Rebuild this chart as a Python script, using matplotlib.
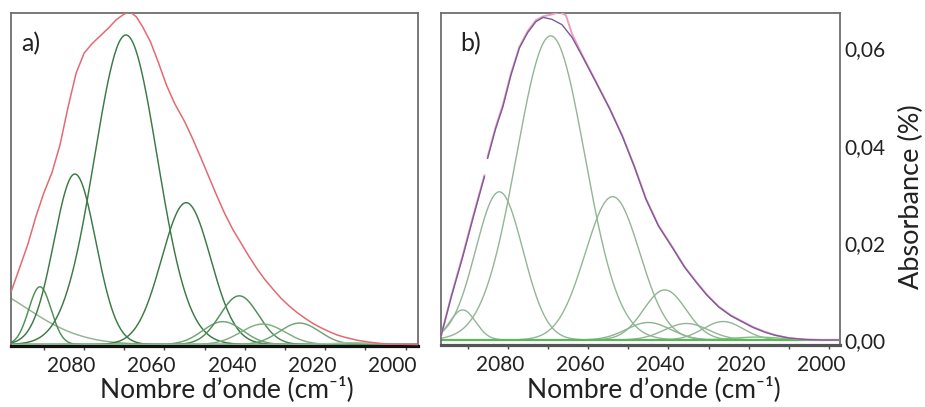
import numpy as np
import matplotlib
matplotlib.use("Agg")
import matplotlib.pyplot as plt
import matplotlib.transforms as mtransforms
from matplotlib.ticker import MultipleLocator

plt.rcParams['font.family'] = ['Lato', 'DejaVu Sans']

# ---------------- data: panel a (fitted Gaussian components) ----------------
a_centers = [2108.6, 2091.0, 2082.3, 2069.6, 2054.6, 2045.5, 2041.4, 2035.5, 2026.4, 2013.0]
a_heights = [0.0127, 0.0121, 0.0357, 0.0648, 0.0297, 0.0048, 0.0102, 0.0043, 0.0045, 0.0004]
a_sigmas = [14.1, 2.8, 5.2, 7.8, 6.1, 5.0, 4.8, 5.5, 5.0, 5.0]

# panel a experimental spectrum (red)
a_env_x = [2098.2, 2096.0, 2094.0, 2092.0, 2090.0, 2088.0, 2086.0, 2084.0, 2082.0, 2080.0,
           2078.0, 2076.0, 2074.0, 2072.0, 2070.0, 2068.5, 2067.0, 2065.5, 2063.5, 2061.5,
           2059.5, 2057.5, 2055.0, 2053.0, 2051.0, 2049.0, 2047.0, 2045.0, 2043.0, 2041.0,
           2039.0, 2037.0, 2035.0, 2033.0, 2031.0, 2029.0, 2027.0, 2025.0, 2023.0, 2021.0,
           2019.0, 2017.0, 2015.0, 2012.0, 2009.0, 2006.0, 2003.0, 1997.0]
a_env_y = [0.0110, 0.0162, 0.0210, 0.0268, 0.0318, 0.0360, 0.0418, 0.0497, 0.0568, 0.0610,
           0.0630, 0.0646, 0.0662, 0.0680, 0.0692, 0.0696, 0.0686, 0.0666, 0.0634, 0.0590,
           0.0543, 0.0505, 0.0467, 0.0431, 0.0392, 0.0352, 0.0312, 0.0274, 0.0241, 0.0213,
           0.0185, 0.0159, 0.0136, 0.0116, 0.0097, 0.0081, 0.0067, 0.0055, 0.0044, 0.0035,
           0.0027, 0.0020, 0.0015, 0.0009, 0.0005, 0.0002, 0.0001, 0.0000]

# ---------------- data: panel b ----------------
b_centers = [2091.2, 2082.1, 2069.3, 2053.9, 2045.0, 2040.9, 2035.5, 2026.4, 2018.0]
b_heights = [0.0062, 0.0305, 0.0626, 0.0295, 0.0036, 0.0103, 0.0034, 0.0038, 0.0006]
b_sigmas = [3.2, 5.9, 8.5, 6.8, 5.5, 5.3, 5.5, 5.0, 6.0]

# fitted envelope (purple); nan = small break seen in the original
b_fit_x = [2096.6, 2096.2, 2094.0, 2091.2, 2088.5, 2085.8, 2085.4, 2085.0, 2083.0, 2081.2,
           2079.2, 2077.1, 2075.0, 2073.0, 2071.2, 2069.0, 2066.5, 2064.0, 2061.3, 2058.0,
           2054.7, 2051.5, 2048.5, 2045.6, 2042.5, 2039.0, 2036.0, 2033.0, 2030.5, 2027.5,
           2024.5, 2022.0, 2019.0, 2016.0, 2013.5, 2010.0, 2006.0, 2002.0, 1997.3]
b_fit_y = [0.0008, 0.0021, 0.0090, 0.0171, 0.0255, 0.0336, np.nan, 0.0374, 0.0435, 0.0480,
           0.0545, 0.0601, 0.0633, 0.0655, 0.0664, 0.0660, 0.0649, 0.0623, 0.0582, 0.0530,
           0.0477, 0.0420, 0.0357, 0.0290, 0.0235, 0.0190, 0.0150, 0.0118, 0.0093, 0.0068,
           0.0050, 0.0039, 0.0026, 0.0016, 0.0010, 0.0004, 0.0001, 0.0000, 0.0000]

# experimental spectrum (pink), only differs near the maximum
b_exp_x = [2096.6, 2096.2, 2094.0, 2091.2, 2088.5, 2085.8, 2085.4, 2085.0, 2083.0, 2081.2,
           2079.2, 2077.1, 2075.0, 2073.0, 2071.2, 2069.0, 2067.0, 2065.5, 2064.0, 2061.3,
           2058.0, 2054.7, 2051.5, 2048.5, 2045.6, 2042.5, 2039.0, 2036.0, 2033.0, 2030.5,
           2027.5, 2024.5, 2022.0, 2019.0, 2016.0, 2013.5, 2010.0, 2006.0, 2002.0, 1997.3]
b_exp_y = [0.0008, 0.0021, 0.0092, 0.0174, 0.0258, 0.0339, np.nan, 0.0377, 0.0438, 0.0484,
           0.0548, 0.0603, 0.0636, 0.0658, 0.0666, 0.0670, 0.0675, 0.0668, 0.0630, 0.0584,
           0.0531, 0.0478, 0.0421, 0.0358, 0.0291, 0.0236, 0.0191, 0.0151, 0.0119, 0.0094,
           0.0069, 0.0051, 0.0040, 0.0027, 0.0017, 0.0010, 0.0004, 0.0001, 0.0000, 0.0000]

xticks = [2080, 2060, 2040, 2020, 2000]
xtick_labels = ['2080', '2060', '2040', '2020', '2000']
yticks_b = [0.00, 0.02, 0.04, 0.06]
ytick_labels_b = ['0,00', '0,02', '0,04', '0,06']

# ---------------- figure ----------------
W, H = 925, 407
fig = plt.figure(figsize=(W / 100, H / 100), dpi=100)


def px_axes(l, t, r, b):
    return fig.add_axes([l / W, 1 - b / H, (r - l) / W, (b - t) / H])


ax_a = px_axes(11, 13, 418, 346)
ax_b = px_axes(441, 13, 840, 345)

xs = np.linspace(2100, 1995, 900)


def gauss(c, h, s):
    return h * np.exp(-(xs - c) ** 2 / (2 * s ** 2))


# panel a
a_cols = ['#8fb592', '#4f8f55', '#3b7a44', '#3b7a44', '#3b7a44',
          '#6fa474', '#4f8f55', '#7fae83', '#6fa474', '#9cc79c']
for c, h, s, col in zip(a_centers, a_heights, a_sigmas, a_cols):
    ax_a.plot(xs, gauss(c, h, s), color=col, lw=1.05, zorder=2)
ax_a.plot(a_env_x, a_env_y, color='#e26a74', lw=1.1, zorder=3)
ax_a.set_xlim(2098.2, 1996.9)
ax_a.set_ylim(-0.0003, 0.0694)

# panel b
b_cols = ['#93b596', '#93b596', '#93b596', '#93b596', '#8ab58d',
          '#8fb592', '#93b596', '#93b596', '#7cc47c']
for c, h, s, col in zip(b_centers, b_heights, b_sigmas, b_cols):
    ax_b.plot(xs, gauss(c, h, s), color=col, lw=1.0, zorder=2)
ax_b.axhline(0, color='#5cb85c', lw=1.6, zorder=2.5)
ax_b.plot(b_exp_x, b_exp_y, color='#eaa0b8', lw=1.4, zorder=3)
ax_b.plot(b_fit_x, b_fit_y, color='#7b5a9c', lw=1.0, zorder=4)
ax_b.set_xlim(2096.6, 1997.3)
ax_b.set_ylim(-0.00103, 0.0673)

for ax, bottom_col, lab_shift in ((ax_a, '#111111', -13), (ax_b, '#555555', -8)):
    for sp in ('left', 'right', 'top'):
        ax.spines[sp].set_color('#6e6e6e')
        ax.spines[sp].set_linewidth(1.3)
    ax.spines['bottom'].set_color(bottom_col)
    ax.spines['bottom'].set_linewidth(2.3)
    ax.set_xticks(xticks)
    ax.set_xticklabels(xtick_labels)
    ax.xaxis.set_minor_locator(MultipleLocator(10))
    ax.tick_params(axis='x', which='both', direction='out', length=3, width=1,
                   color='#444444', labelsize=15, pad=4.5, labelcolor='#222222')
    off = mtransforms.ScaledTranslation(lab_shift / 100, 0, fig.dpi_scale_trans)
    for lab in ax.get_xticklabels():
        lab.set_transform(lab.get_transform() + off)
    ax.set_xlabel('Nombre d’onde (cm⁻¹)', fontsize=19, color='#222222')

ax_a.set_yticks([])
ax_a.xaxis.set_label_coords(0.530, -0.090)
ax_b.xaxis.set_label_coords(0.534, -0.093)

ax_b.yaxis.tick_right()
ax_b.set_yticks(yticks_b)
ax_b.set_yticklabels(ytick_labels_b)
ax_b.tick_params(axis='y', which='both', length=0, pad=3, labelsize=15, labelcolor='#222222')
ax_b.yaxis.set_label_position('right')
ax_b.set_ylabel('Absorbance (%)', fontsize=19.5, color='#222222')
ax_b.yaxis.set_label_coords(1.148, 0.447)

ax_a.text(0.026, 0.943, 'a)', transform=ax_a.transAxes, fontsize=18, va='top', ha='left', color='#222222')
ax_b.text(0.0476, 0.943, 'b)', transform=ax_b.transAxes, fontsize=18, va='top', ha='left', color='#222222')

fig.savefig('out.png', dpi=100)
